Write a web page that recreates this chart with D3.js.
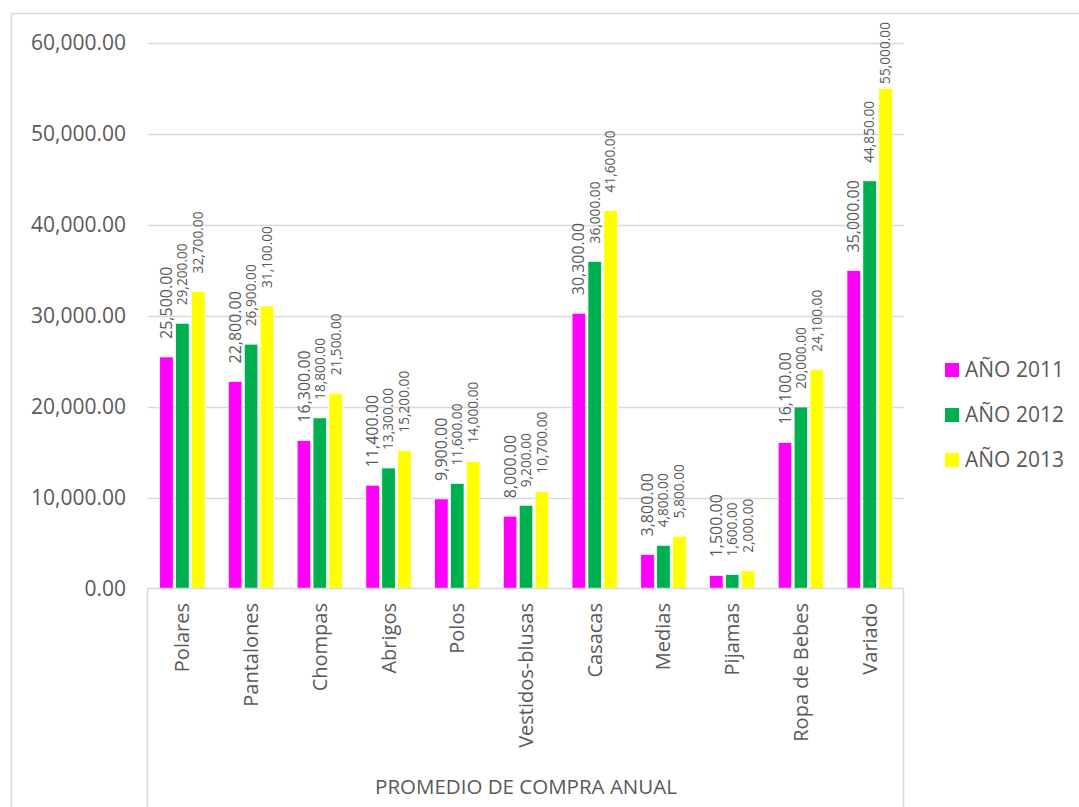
<!DOCTYPE html>
<html><head><meta charset="utf-8">
<script src="https://cdn.jsdelivr.net/npm/d3@7"></script>
<style>body{margin:0;background:#fff}svg{display:block}text{font-family:"Open Sans",sans-serif;fill:#595959}</style>
</head><body><div id="chart"></div>
<script>
const categories = ["Polares","Pantalones","Chompas","Abrigos","Polos","Vestidos-blusas","Casacas","Medias","Pijamas","Ropa de Bebes","Variado"];
const seriesNames = ["AÑO 2011","AÑO 2012","AÑO 2013"];
const values2011 = [25500,22800,16300,11400,9900,8000,30300,3800,1500,16100,35000];
const values2012 = [29200,26900,18800,13300,11600,9200,36000,4800,1600,20000,44850];
const values2013 = [32700,31100,21500,15200,14000,10700,41600,5800,2000,24100,55000];
const yTicks = [0,10000,20000,30000,40000,50000,60000];
const axisTitle = "PROMEDIO DE COMPRA ANUAL";
const colors = ["#FF00FF","#00B050","#FFFF00"];
const seriesValues = [values2011, values2012, values2013];

const W = 1079, H = 807;
const svg = d3.select("#chart").append("svg").attr("width",W).attr("height",H);
// outer frame
svg.append("rect").attr("x",11.5).attr("y",13.5).attr("width",1100).attr("height",850)
  .attr("fill","none").attr("stroke","#d9d9d9").attr("stroke-width",1.5);

const pLeft = 148, pRight = 904, pTop = 43, pBottom = 589;
const y = d3.scaleLinear().domain([0,60000]).range([pBottom, pTop]);
const x0 = d3.scaleBand().domain(categories).range([pLeft,pRight]).padding(0);
const bw = x0.bandwidth();
const x1 = d3.scaleBand().domain(seriesNames).range([bw*0.17, bw*0.83]).paddingInner(0.15);

// gridlines
svg.append("g").selectAll("line").data(yTicks.filter(d=>d>0)).join("line")
  .attr("x1",pLeft).attr("x2",pRight).attr("y1",d=>Math.round(y(d))+0.5).attr("y2",d=>Math.round(y(d))+0.5)
  .attr("stroke","#d9d9d9").attr("stroke-width",1.5);

// y axis labels
const fmt = d3.format(",.2f");
const yAxis = d3.axisLeft(y).tickValues(yTicks).tickFormat(fmt).tickSize(0).tickPadding(22);
const ya = svg.append("g").attr("transform",`translate(${pLeft},0)`).call(yAxis);
ya.select(".domain").remove();
ya.selectAll("text").style("font-size","21px").style("font-family","Open Sans").attr("fill","#595959");

// bars
const groups = svg.append("g").selectAll("g").data(categories).join("g")
  .attr("transform",d=>`translate(${x0(d)},0)`);
seriesNames.forEach((s,si)=>{
  groups.append("rect")
    .attr("x",x1(s)).attr("width",x1.bandwidth())
    .attr("y",(d,i)=>y(seriesValues[si][i])).attr("height",(d,i)=>y(0)-y(seriesValues[si][i]))
    .attr("fill",colors[si]).attr("stroke","#fff").attr("stroke-width",0.7);
  groups.append("text")
    .attr("dy","0.35em").attr("text-anchor","start")
    .style("font-size", si===0 ? "16px" : "13.7px")
    .text((d,i)=>fmt(seriesValues[si][i]))
    .attr("transform",function(d,i){
      const len = this.getComputedTextLength();
      const yy = Math.max(y(seriesValues[si][i])-18, 22+len);
      return `translate(${x1(s)+x1.bandwidth()/2},${yy}) rotate(-90)`;
    });
});

// category axis box
const axisG = svg.append("g");
axisG.append("line").attr("x1",pLeft-0.5).attr("x2",pRight-0.5).attr("y1",pBottom-0.5).attr("y2",pBottom-0.5)
  .attr("stroke","#d9d9d9").attr("stroke-width",1.5);
[pLeft-0.5, pRight-0.5].forEach(xx=>{
  axisG.append("line").attr("x1",xx).attr("x2",xx).attr("y1",pBottom-0.5).attr("y2",H+5)
    .attr("stroke","#d9d9d9").attr("stroke-width",1.5);
});
const xAxis = d3.axisBottom(x0).tickSize(0).tickPadding(0);
const xa = svg.append("g").attr("transform",`translate(0,${pBottom})`).call(xAxis);
xa.select(".domain").remove();
xa.selectAll("text").attr("transform","translate(0,14) rotate(-90)").attr("text-anchor","end")
  .attr("dy","0.35em").attr("y",0).attr("x",0)
  .style("font-size","20px").style("font-family","Open Sans").attr("fill","#595959");

svg.append("text").attr("x",(pLeft+pRight)/2).attr("y",787).attr("dy","0.35em").attr("text-anchor","middle")
  .style("font-size","20.5px").text(axisTitle);

// legend
const lg = svg.append("g").selectAll("g").data(seriesNames).join("g")
  .attr("transform",(d,i)=>`translate(945,${370+i*45})`);
lg.append("rect").attr("x",0).attr("y",-7).attr("width",14).attr("height",14).attr("fill",(d,i)=>colors[i]);
lg.append("text").attr("x",20).attr("dy","0.35em").style("font-size","21px").text(d=>d);
</script></body></html>
